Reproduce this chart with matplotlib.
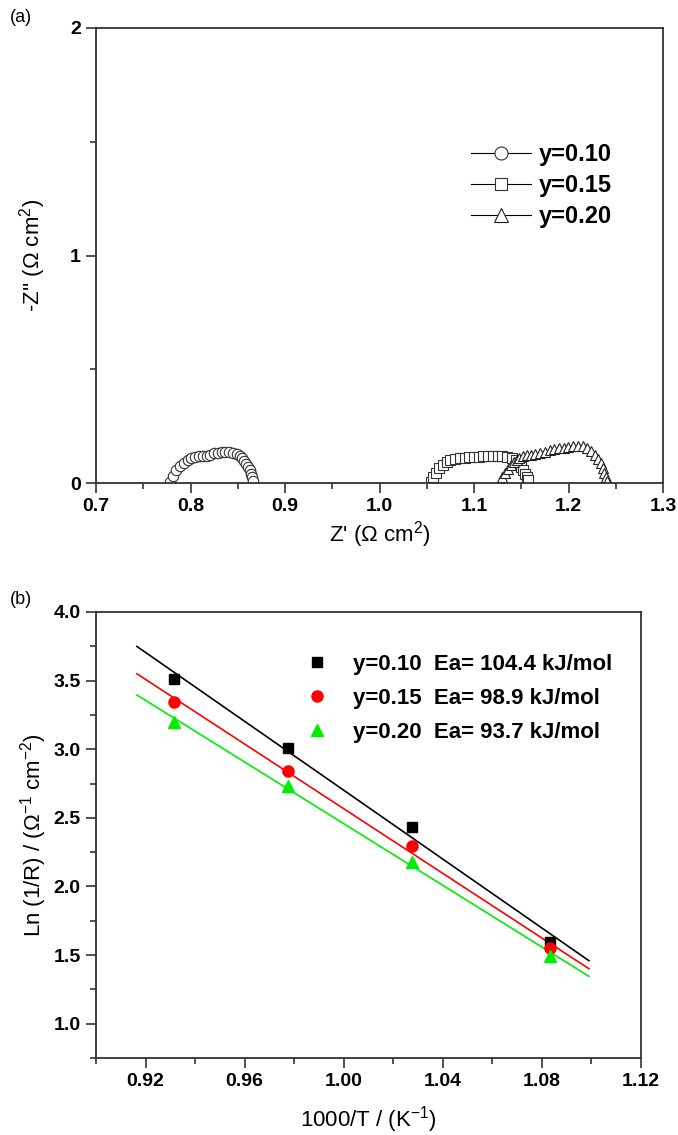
import numpy as np
import matplotlib
matplotlib.use("Agg")
from matplotlib import pyplot as plt
from matplotlib.ticker import MultipleLocator, FormatStrFormatter

plt.rcParams['font.family'] = ['Liberation Sans', 'DejaVu Sans']
plt.rcParams['mathtext.default'] = 'regular'

# (a) impedance arcs, Z' and -Z'' in ohm cm2
z_re_10 = [0.778, 0.781, 0.785, 0.789, 0.793, 0.797, 0.801, 0.805, 0.809, 0.813,
           0.817, 0.821, 0.825, 0.829, 0.833, 0.837, 0.841, 0.845, 0.849, 0.852,
           0.855, 0.857, 0.859, 0.861, 0.863, 0.864, 0.865, 0.866]
z_im_10 = [0.005, 0.03, 0.055, 0.075, 0.09, 0.102, 0.11, 0.115, 0.117, 0.118,
           0.12, 0.125, 0.13, 0.134, 0.137, 0.138, 0.137, 0.133, 0.127, 0.118,
           0.108, 0.097, 0.085, 0.07, 0.055, 0.04, 0.025, 0.01]

z_re_15 = [1.055, 1.057, 1.060, 1.063, 1.067, 1.071, 1.075, 1.080, 1.085, 1.090,
           1.095, 1.100, 1.105, 1.110, 1.115, 1.120, 1.125, 1.130, 1.135, 1.140,
           1.144, 1.147, 1.150, 1.152, 1.154, 1.156, 1.157]
z_im_15 = [0.005, 0.025, 0.045, 0.065, 0.08, 0.092, 0.1, 0.106, 0.11, 0.112,
           0.114, 0.115, 0.116, 0.117, 0.117, 0.118, 0.118, 0.117, 0.115, 0.11,
           0.1, 0.088, 0.072, 0.055, 0.04, 0.025, 0.012]

z_re_20 = [1.127, 1.130, 1.133, 1.136, 1.139, 1.142, 1.145, 1.148, 1.152, 1.156,
           1.160, 1.165, 1.170, 1.175, 1.180, 1.185, 1.190, 1.195, 1.200, 1.205,
           1.210, 1.215, 1.220, 1.224, 1.228, 1.231, 1.234, 1.236, 1.238, 1.240, 1.241]
z_im_20 = [0.005, 0.025, 0.045, 0.062, 0.078, 0.092, 0.103, 0.112, 0.118, 0.122,
           0.125, 0.128, 0.132, 0.138, 0.144, 0.149, 0.153, 0.156, 0.159, 0.162,
           0.163, 0.161, 0.154, 0.142, 0.125, 0.107, 0.087, 0.066, 0.045, 0.025, 0.008]

labels_a = ['y=0.10', 'y=0.15', 'y=0.20']

# (b) Arrhenius data
inv_T = [0.9316, 0.9775, 1.0276, 1.0833]
ln_10 = [3.514, 3.007, 2.435, 1.598]
ln_15 = [3.346, 2.840, 2.296, 1.548]
ln_20 = [3.198, 2.733, 2.180, 1.494]
fit_range = [0.9165, 1.099]
labels_b = ['y=0.10  Ea= 104.4 kJ/mol', 'y=0.15  Ea= 98.9 kJ/mol', 'y=0.20  Ea= 93.7 kJ/mol']

W, H = 678, 1135
fig = plt.figure(figsize=(W / 100, H / 100), dpi=100)

# ---------- panel (a)
ax1 = fig.add_axes([96 / W, 1 - 483 / H, (663 - 96) / W, (483 - 28) / H])
ax1.plot(z_re_10, z_im_10, '-o', color='k', lw=0.8, ms=7.5, mfc='white', mec='#333333', mew=0.8, label=labels_a[0])
ax1.plot(z_re_15, z_im_15, '-s', color='k', lw=0.8, ms=6.5, mfc='white', mec='#333333', mew=0.8, label=labels_a[1])
ax1.plot(z_re_20, z_im_20, '-^', color='k', lw=0.8, ms=7.5, mfc='white', mec='#222222', mew=0.8, label=labels_a[2])
ax1.set_xlim(0.7, 1.3)
ax1.set_ylim(0, 2)
ax1.xaxis.set_major_locator(MultipleLocator(0.1))
ax1.xaxis.set_minor_locator(MultipleLocator(0.05))
ax1.yaxis.set_major_locator(MultipleLocator(1))
ax1.yaxis.set_minor_locator(MultipleLocator(0.5))
ax1.xaxis.set_major_formatter(FormatStrFormatter('%.1f'))
ax1.set_xlabel("Z' (Ω cm$^{2}$)", fontsize=16, labelpad=3)
ax1.set_ylabel("-Z'' (Ω cm$^{2}$)", fontsize=16, labelpad=16)
leg1 = ax1.legend(loc='upper left', bbox_to_anchor=(0.624, 0.793), frameon=False,
                  handlelength=2.55, handletextpad=0.3, labelspacing=0.33,
                  prop={'weight': 'bold', 'size': 17}, markerscale=1.25)
fig.text(10 / W, 1 - 18 / H, '(a)', fontsize=13, va='center', ha='left')

# ---------- panel (b)
ax2 = fig.add_axes([96 / W, 1 - 1058 / H, (641 - 96) / W, (1058 - 612) / H])
xf = np.array(fit_range)
series = [(ln_10, 'k', 's', 7, labels_b[0]),
          (ln_15, '#ff0000', 'o', 8, labels_b[1]),
          (ln_20, '#00ee00', '^', 9, labels_b[2])]
for ys, col, mk, ms, lab in series:
    k, b = np.polyfit(inv_T, ys, 1)
    ax2.plot(xf, k * xf + b, '-', color=col, lw=1.2)
for ys, col, mk, ms, lab in series:
    ax2.plot(inv_T, ys, linestyle='none', marker=mk, color=col, ms=ms, label=lab)
ax2.set_xlim(0.90, 1.12)
ax2.set_ylim(0.75, 4.0)
ax2.xaxis.set_major_locator(MultipleLocator(0.04))
ax2.xaxis.set_minor_locator(MultipleLocator(0.02))
ax2.yaxis.set_major_locator(MultipleLocator(0.5))
ax2.yaxis.set_minor_locator(MultipleLocator(0.25))
ax2.xaxis.set_major_formatter(FormatStrFormatter('%.2f'))
ax2.yaxis.set_major_formatter(FormatStrFormatter('%.1f'))
ax2.set_xlabel("1000/T / (K$^{-1}$)", fontsize=16, labelpad=10)
ax2.set_ylabel("Ln (1/R) / (Ω$^{-1}$ cm$^{-2}$)", fontsize=16, labelpad=3)
leg2 = ax2.legend(loc='upper left', bbox_to_anchor=(0.3355, 0.951), frameon=False,
                  handlelength=1.6, handletextpad=0.84, labelspacing=0.58,
                  prop={'weight': 'bold', 'size': 16}, numpoints=1)
fig.text(10 / W, 1 - 600 / H, '(b)', fontsize=13, va='center', ha='left')

for ax in (ax1, ax2):
    for sp in ax.spines.values():
        sp.set_linewidth(1.3)
        sp.set_color('#333333')
    ax.tick_params(which='both', direction='out', top=False, right=False,
                   width=1.2, color='#333333', labelsize=14)
    ax.tick_params(which='major', length=7, pad=4)
    ax.tick_params(which='minor', length=4)
    for lab in ax.get_xticklabels() + ax.get_yticklabels():
        lab.set_fontweight('bold')

fig.savefig('out.png', dpi=100)
